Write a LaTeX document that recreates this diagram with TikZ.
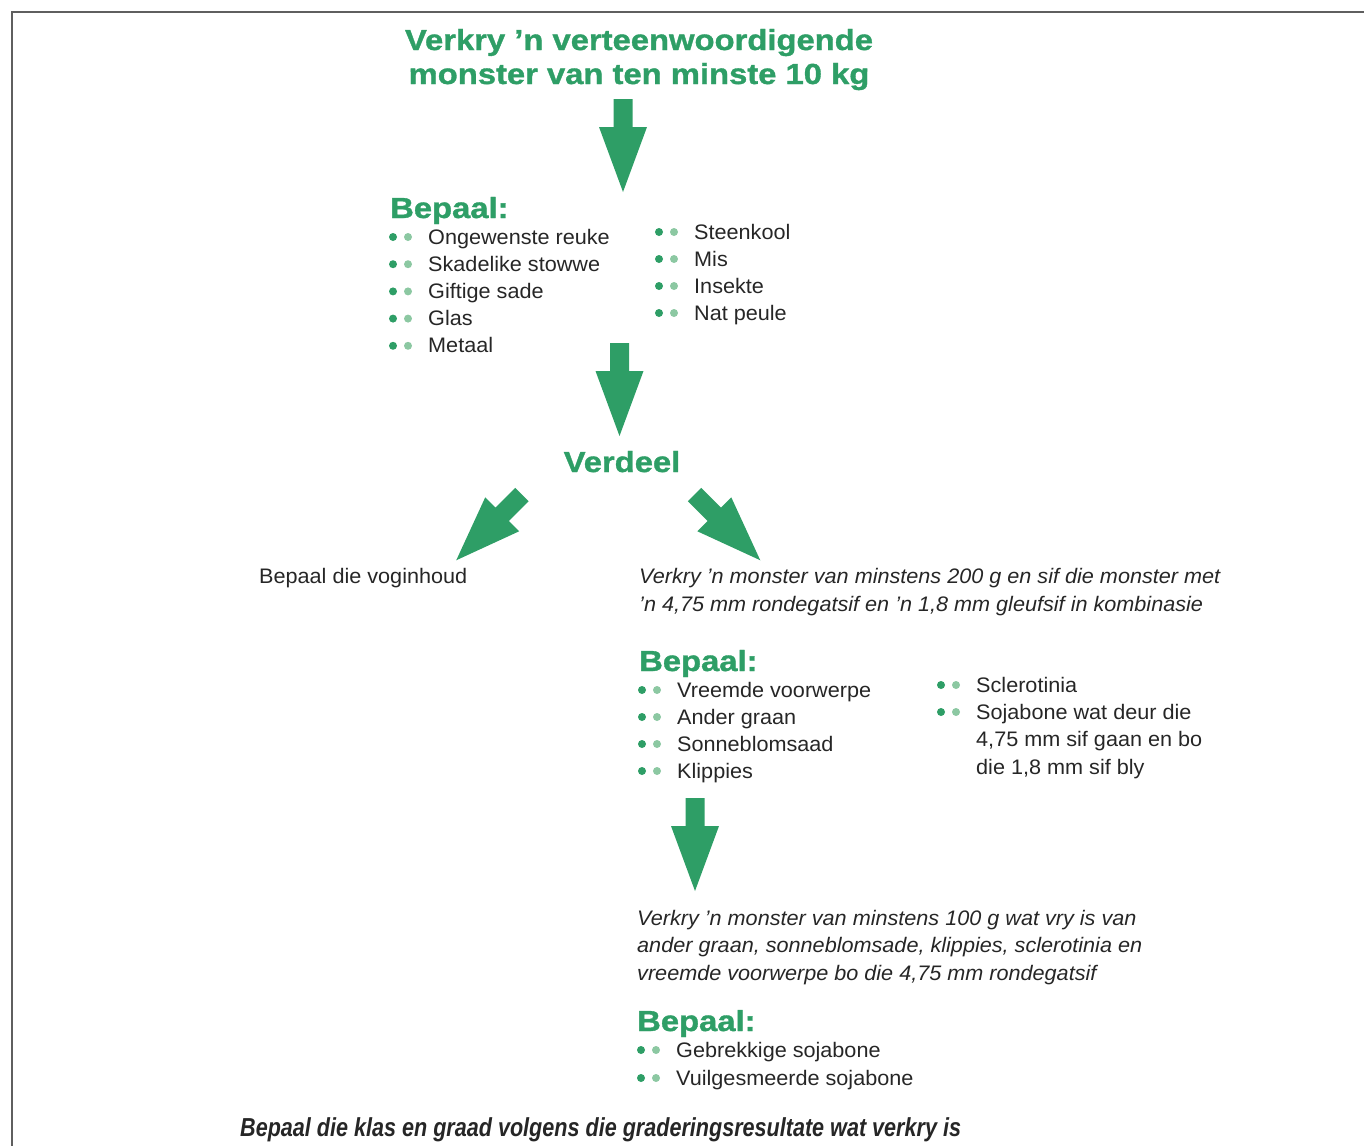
\documentclass[tikz,border=0pt]{standalone}
\usepackage{fontspec}
\setmainfont[FakeStretch=1.03]{Liberation Sans}
\newfontfamily\headfont[FakeStretch=1.13, BoldFeatures={FakeBold=1.2}]{Liberation Sans}
\newfontfamily\condfont[FakeStretch=0.83]{Liberation Sans}
\usepackage{tikz}
\usetikzlibrary{calc}

\definecolor{dgreen}{RGB}{46,158,102}
\definecolor{lgreen}{RGB}{140,200,162}
\definecolor{framegray}{RGB}{95,95,95}

\tikzset{
  title/.style={font=\headfont\fontsize{29}{34}\selectfont\bfseries, text=dgreen, align=center, anchor=base, inner sep=0pt},
  head/.style={font=\headfont\fontsize{29}{34}\selectfont\bfseries, text=dgreen, anchor=base west, inner sep=0pt},
  item/.style={font=\fontsize{21}{27.5}\selectfont, text=black!85, anchor=base west, inner sep=0pt, align=left},
  note/.style={font=\fontsize{21}{27.5}\selectfont\itshape, text=black!85, anchor=base west, inner sep=0pt, align=left},
  bigarrow/.pic={\fill[dgreen] (-9.5,0) -- (9.5,0) -- (9.5,28) -- (24,28) -- (0,93) -- (-24,28) -- (-9.5,28) -- cycle;}
}

% two dots in front of a list entry (argument: baseline start of the entry)
\newcommand{\dotpair}[1]{%
  \fill[dgreen] ($(#1)+(-35,-7)$) circle (4);
  \fill[lgreen] ($(#1)+(-20,-7)$) circle (4);}

\begin{document}
\begin{tikzpicture}[x=1pt,y=-1pt]
		\useasboundingbox (0,0) rectangle (1364,1146);
		% Frame
		\draw[framegray, line width=1.5pt] (1364,12) -- (12,12) -- (12,1146);
		% Title (base = last line)
		\node[title] (top) at (639,84) {Verkry ’n verteenwoordigende\\monster van ten minste 10 kg};
		\pic at (623,99) {bigarrow};
		% First list
		\node[head] (b1) at (390,218) {Bepaal:};
		\foreach \txt [count=\i] in {Ongewenste reuke, Skadelike stowwe, Giftige sade, Glas, Metaal}{
			\node[item] (a\i) at (428,{244+27.2*(\i-1)}) {\txt};
			\dotpair{a\i.base west}
		}
		\foreach \txt [count=\i] in {Steenkool, Mis, Insekte, Nat peule}{
			\node[item] (c\i) at (694,{239+27*(\i-1)}) {\txt};
			\dotpair{c\i.base west}
		}
		\pic at (619.5,343) {bigarrow};
		% Split
		\node[head, anchor=base] (split) at (622,472) {Verdeel};
		\pic[rotate=-45] at (522,494.5) {bigarrow};
		\pic[rotate=45] at (694.5,494.5) {bigarrow};
		\node[item] (moist) at (259,583) {Bepaal die voginhoud};
		\node[note] (sieve) at (639,611) {Verkry ’n monster van minstens 200 g en sif die monster met\\’n 4,75 mm rondegatsif en ’n 1,8 mm gleufsif in kombinasie};
		% Second list
		\node[head] (b2) at (639,671) {Bepaal:};
		\foreach \txt [count=\i] in {Vreemde voorwerpe, Ander graan, Sonneblomsaad, Klippies}{
			\node[item] (d\i) at (677,{697+27*(\i-1)}) {\txt};
			\dotpair{d\i.base west}
		}
		\node[item] (e1) at (976,692) {Sclerotinia};
		\dotpair{e1.base west}
		\coordinate (e2first) at (976,719);
		\node[item] (e2) at (976,774) {Sojabone wat deur die\\4,75 mm sif gaan en bo\\die 1,8 mm sif bly};
		\dotpair{e2first}
		\pic at (695,798) {bigarrow};
		% Third list
		\node[note] (clean) at (637,980) {Verkry ’n monster van minstens 100 g wat vry is van\\ander graan, sonneblomsade, klippies, sclerotinia en\\vreemde voorwerpe bo die 4,75 mm rondegatsif};
		\node[head] (b3) at (637,1031) {Bepaal:};
		\foreach \txt [count=\i] in {Gebrekkige sojabone, Vuilgesmeerde sojabone}{
			\node[item] (f\i) at (676,{1057+28*(\i-1)}) {\txt};
			\dotpair{f\i.base west}
		}
		% Closing line
		\node[anchor=base west, inner sep=0pt, font=\condfont\fontsize{26}{30}\selectfont\bfseries\itshape, text=black!85] (grade) at (240,1136) {Bepaal die klas en graad volgens die graderingsresultate wat verkry is};
\end{tikzpicture}
\end{document}
